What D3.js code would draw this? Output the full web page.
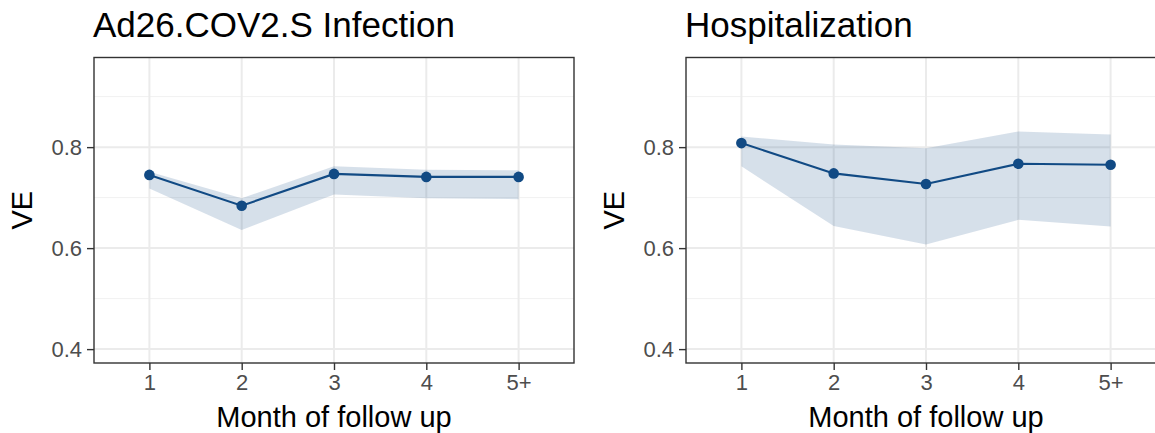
<!DOCTYPE html>
<html>
<head>
<meta charset="utf-8">
<script src="https://cdn.jsdelivr.net/npm/d3@7"></script>
<style>
  html, body { margin: 0; padding: 0; background: #fff; }
  svg { display: block; font-family: "Liberation Sans", Arial, Helvetica, sans-serif; }
</style>
</head>
<body>
<svg id="chart" width="1155" height="433"></svg>
<script>
const months = ["1", "2", "3", "4", "5+"];
const infectionVE = [0.745, 0.684, 0.747, 0.741, 0.741];
const infectionLower = [0.718, 0.636, 0.706, 0.699, 0.697];
const infectionUpper = [0.751, 0.699, 0.762, 0.755, 0.754];
const hospVE = [0.808, 0.748, 0.727, 0.767, 0.765];
const hospLower = [0.762, 0.644, 0.607, 0.656, 0.643];
const hospUpper = [0.821, 0.805, 0.798, 0.831, 0.825];
const yMajorTicks = [0.4, 0.6, 0.8];
const yMinorTicks = [0.5, 0.7, 0.9];
const panelTitles = ["Ad26.COV2.S Infection", "Hospitalization"];
const xTitle = "Month of follow up";
const yTitle = "VE";

const panels = [
  { title: panelTitles[0], ve: infectionVE, lo: infectionLower, hi: infectionUpper, left: 94 },
  { title: panelTitles[1], ve: hospVE, lo: hospLower, hi: hospUpper, left: 686 }
];

const svg = d3.select("#chart");
const panelW = 480, panelTop = 57.5, panelBottom = 363;
const lineColor = "#114a84";

const y = d3.scaleLinear().domain([0.3725, 0.9775]).range([panelBottom, panelTop]);

panels.forEach(p => {
  const x = d3.scalePoint().domain(months).range([p.left, p.left + panelW]).padding(0.6);
  const g = svg.append("g");
  const rows = months.map((m, i) => ({ m, ve: p.ve[i], lo: p.lo[i], hi: p.hi[i] }));

  // minor gridlines
  g.selectAll(".minor").data(yMinorTicks).enter().append("line")
    .attr("x1", p.left).attr("x2", p.left + panelW)
    .attr("y1", d => y(d)).attr("y2", d => y(d))
    .attr("stroke", "#f1f1f1").attr("stroke-width", 1);
  // major gridlines
  g.selectAll(".majorY").data(yMajorTicks).enter().append("line")
    .attr("x1", p.left).attr("x2", p.left + panelW)
    .attr("y1", d => y(d)).attr("y2", d => y(d))
    .attr("stroke", "#ebebeb").attr("stroke-width", 2);
  g.selectAll(".majorX").data(months).enter().append("line")
    .attr("x1", d => x(d)).attr("x2", d => x(d))
    .attr("y1", panelTop).attr("y2", panelBottom)
    .attr("stroke", "#ebebeb").attr("stroke-width", 2);

  // ribbon
  g.append("path").datum(rows)
    .attr("d", d3.area().x(d => x(d.m)).y0(d => y(d.lo)).y1(d => y(d.hi)))
    .attr("fill", "#003d7a").attr("fill-opacity", 0.16);

  // line
  g.append("path").datum(rows)
    .attr("d", d3.line().x(d => x(d.m)).y(d => y(d.ve)))
    .attr("fill", "none").attr("stroke", lineColor).attr("stroke-width", 2.1);

  // points
  g.selectAll(".pt").data(rows).enter().append("circle")
    .attr("cx", d => x(d.m)).attr("cy", d => y(d.ve)).attr("r", 5.3)
    .attr("fill", lineColor);

  // panel border
  g.append("rect")
    .attr("x", p.left).attr("y", panelTop).attr("width", panelW).attr("height", panelBottom - panelTop)
    .attr("fill", "none").attr("stroke", "#333").attr("stroke-width", 1.4);

  // axes
  const xAxis = d3.axisBottom(x).tickSize(7).tickPadding(4);
  const gx = g.append("g").attr("transform", `translate(0,${panelBottom})`).call(xAxis);
  gx.select(".domain").remove();
  gx.selectAll(".tick line").attr("stroke", "#333").attr("stroke-width", 1.4);
  gx.selectAll(".tick text").attr("font-size", 22).attr("fill", "#4d4d4d")
    .attr("font-family", "'Liberation Sans', Arial, sans-serif").attr("dy", "0.71em");

  const yAxis = d3.axisLeft(y).tickValues(yMajorTicks).tickFormat(d3.format(".1f")).tickSize(7).tickPadding(5);
  const gy = g.append("g").attr("transform", `translate(${p.left},0)`).call(yAxis);
  gy.select(".domain").remove();
  gy.selectAll(".tick line").attr("stroke", "#333").attr("stroke-width", 1.4);
  gy.selectAll(".tick text").attr("font-size", 22).attr("fill", "#4d4d4d")
    .attr("font-family", "'Liberation Sans', Arial, sans-serif");

  // titles
  g.append("text").attr("x", p.left - 1).attr("y", 37)
    .attr("font-size", 35).attr("fill", "#000").text(p.title);
  g.append("text").attr("x", p.left + panelW / 2).attr("y", 427)
    .attr("text-anchor", "middle").attr("font-size", 29).attr("fill", "#000").text(xTitle);
  g.append("text")
    .attr("transform", `translate(${p.left - 62},${(panelTop + panelBottom) / 2}) rotate(-90)`)
    .attr("text-anchor", "middle").attr("font-size", 29).attr("fill", "#000").text(yTitle);
});
</script>
</body>
</html>
